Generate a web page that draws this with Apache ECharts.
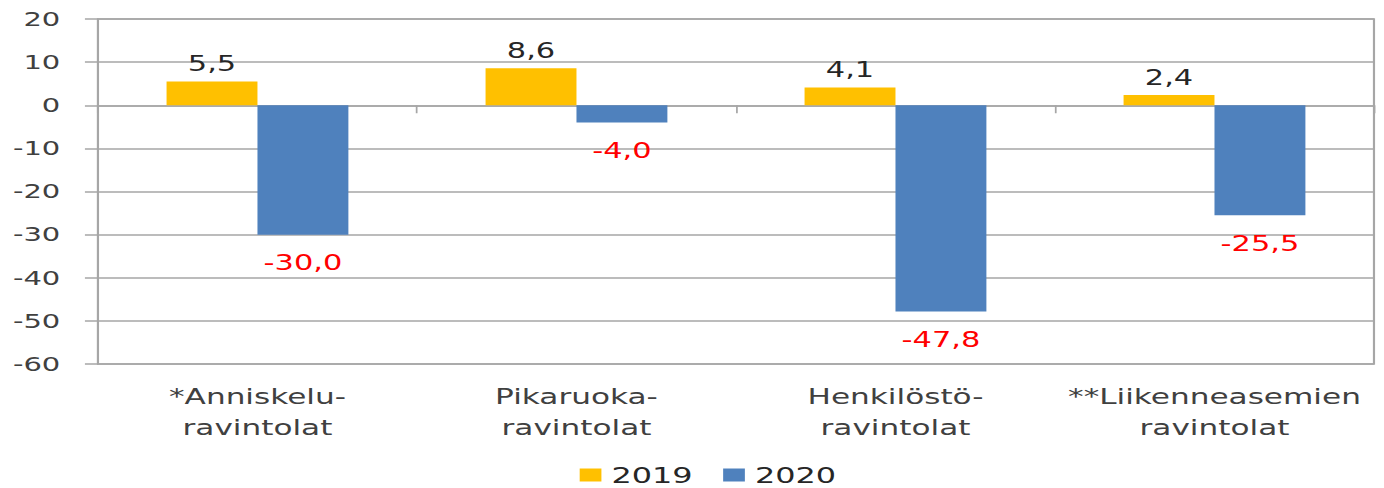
<!DOCTYPE html>
<html><head><meta charset="utf-8">
<script src="https://cdn.jsdelivr.net/npm/echarts@6/dist/echarts.min.js"></script>
<style>html,body{margin:0;padding:0;background:#fff;overflow:hidden}
#wrap{width:1384px;height:488px;overflow:hidden}
#c{width:955px;height:488px;transform:scaleX(1.4492);transform-origin:0 0}</style>
</head><body><div id="wrap"><div id="c"></div></div>
<script>
var categories = ["*Anniskelu-\nravintolat", "Pikaruoka-\nravintolat", "Henkilöstö-\nravintolat", "**Liikenneasemien\nravintolat"];
var series2019 = [5.5, 8.6, 4.1, 2.4];
var series2020 = [-30.0, -4.0, -47.8, -25.5];
var seriesNames = ["2019", "2020"];
var yTicks = {min: -60, max: 20, interval: 10};

var FONT = "DejaVu Sans";
var chart = echarts.init(document.getElementById('c'), null, {renderer: 'svg'});
function fmt(p){ return p.value.toFixed(1).replace('.', ','); }
chart.setOption({
  animation: false,
  textStyle: {fontFamily: FONT},
  grid: {left: 67.6, right: 6.9, top: 19, bottom: 124, show: true, borderColor: '#a6a6a6', borderWidth: 1.5},
  legend: {
    top: 464, left: 400, padding: 0, itemWidth: 15, itemHeight: 13, itemGap: 21,
    textStyle: {fontSize: 22, color: '#262626', fontFamily: FONT, padding: [0, 0, 0, 2]},
    data: seriesNames.map(function(n){return {name: n, icon: 'rect'};})
  },
  xAxis: [{
    type: 'category', data: categories, position: 'bottom',
    axisLine: {onZero: false, show: false},
    axisTick: {show: false},
    axisLabel: {fontSize: 21.5, color: '#404040', lineHeight: 31, margin: 17, interval: 0, fontFamily: FONT}
  }, {
    type: 'category', data: categories, position: 'top',
    axisLine: {onZero: true, lineStyle: {color: '#a6a6a6', width: 1.5}},
    axisTick: {show: true, inside: true, length: 8, lineStyle: {color: '#a6a6a6', width: 1.2}},
    axisLabel: {show: false}
  }],
  yAxis: {
    type: 'value', min: yTicks.min, max: yTicks.max, interval: yTicks.interval,
    axisLine: {show: true, lineStyle: {color: '#a6a6a6', width: 1.2}},
    axisTick: {show: true, length: 9, lineStyle: {color: '#a6a6a6', width: 1.5}},
    splitLine: {lineStyle: {color: '#a6a6a6', width: 1.5}},
    axisLabel: {fontSize: 20, color: '#404040', margin: 26, fontFamily: FONT}
  },
  series: [{
    name: seriesNames[0], type: 'bar', data: series2019, xAxisIndex: 0,
    barGap: '0%', barCategoryGap: '43%',
    itemStyle: {color: '#FFC000'},
    label: {show: true, position: 'top', distance: 7, fontSize: 21, color: '#262626', formatter: fmt, fontFamily: FONT}
  }, {
    name: seriesNames[1], type: 'bar', data: series2020, xAxisIndex: 0,
    barGap: '0%', barCategoryGap: '43%',
    itemStyle: {color: '#4F81BD'},
    label: {show: true, position: 'bottom', distance: 18, fontSize: 21, color: '#FF0000', formatter: fmt, fontFamily: FONT}
  }]
});
</script></body></html>
